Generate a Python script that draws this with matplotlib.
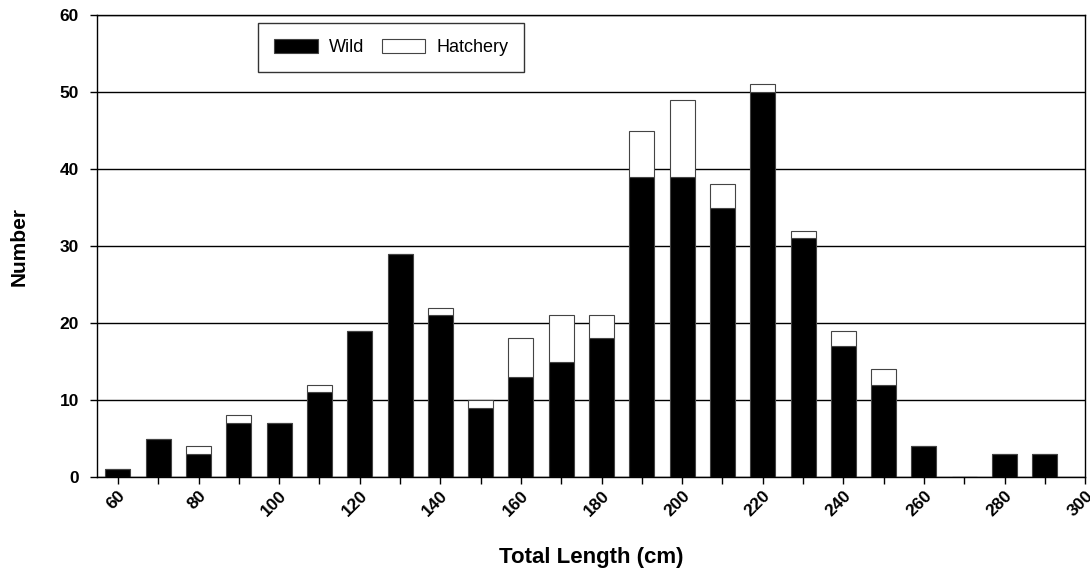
import matplotlib
matplotlib.use('Agg')
import matplotlib.pyplot as plt
from matplotlib.ticker import MultipleLocator

# length classes (cm) and counts
lengths = [60, 70, 80, 90, 100, 110, 120, 130, 140, 150, 160, 170,
           180, 190, 200, 210, 220, 230, 240, 250, 260, 270, 280, 290]
wild = [1, 5, 3, 7, 7, 11, 19, 29, 21, 9, 13, 15,
        18, 39, 39, 35, 50, 31, 17, 12, 4, 0, 3, 3]
hatchery = [0, 0, 1, 1, 0, 1, 0, 0, 1, 1, 5, 6,
            3, 6, 10, 3, 1, 1, 2, 2, 0, 0, 0, 0]
x_ticks = list(range(60, 301, 20))
y_ticks = list(range(0, 61, 10))

plt.rcParams['font.family'] = ['Liberation Sans', 'DejaVu Sans']

fig = plt.figure(figsize=(10.9, 5.81), dpi=100)
ax = fig.add_axes([0.089, 0.179, 0.9065, 0.795])

ax.set_axisbelow(True)
ax.grid(True, axis='y', color='black', linewidth=1)

ax.bar(lengths, wild, width=6.2, color='black', edgecolor='#444444',
       linewidth=0.8, label='Wild')
ax.bar(lengths, hatchery, width=6.2, bottom=wild, color='white',
       edgecolor='#444444', linewidth=0.8, label='Hatchery')

ax.set_xlim(54.8, 300)
ax.set_ylim(0, 60)
ax.set_xticks(x_ticks)
ax.xaxis.set_minor_locator(MultipleLocator(10))
ax.set_yticks(y_ticks)

ax.tick_params(axis='both', which='both', direction='out', length=5,
               width=1, labelsize=12.5)
ax.tick_params(axis='x', pad=3)
ax.tick_params(axis='y', pad=8)
for lbl in ax.get_xticklabels():
    lbl.set_rotation(45)
    lbl.set_ha('right')
    lbl.set_rotation_mode('anchor')
    lbl.set_fontweight('bold')
for lbl in ax.get_yticklabels():
    lbl.set_fontweight('bold')

for sp in ax.spines.values():
    sp.set_linewidth(1)

ax.set_xlabel('Total Length (cm)', fontsize=16, fontweight='bold', labelpad=20)
ax.set_ylabel('Number', fontsize=15, fontweight='bold', labelpad=22)

leg = ax.legend(loc='upper left', bbox_to_anchor=(0.163, 0.983), ncol=2,
                frameon=True, fancybox=False, edgecolor='black', fontsize=13,
                handlelength=2.4, handleheight=0.75, handletextpad=0.6,
                borderpad=0.9, borderaxespad=0, columnspacing=1.0)
leg.get_frame().set_linewidth(1)

fig.savefig('out.png', dpi=100, facecolor='white')
